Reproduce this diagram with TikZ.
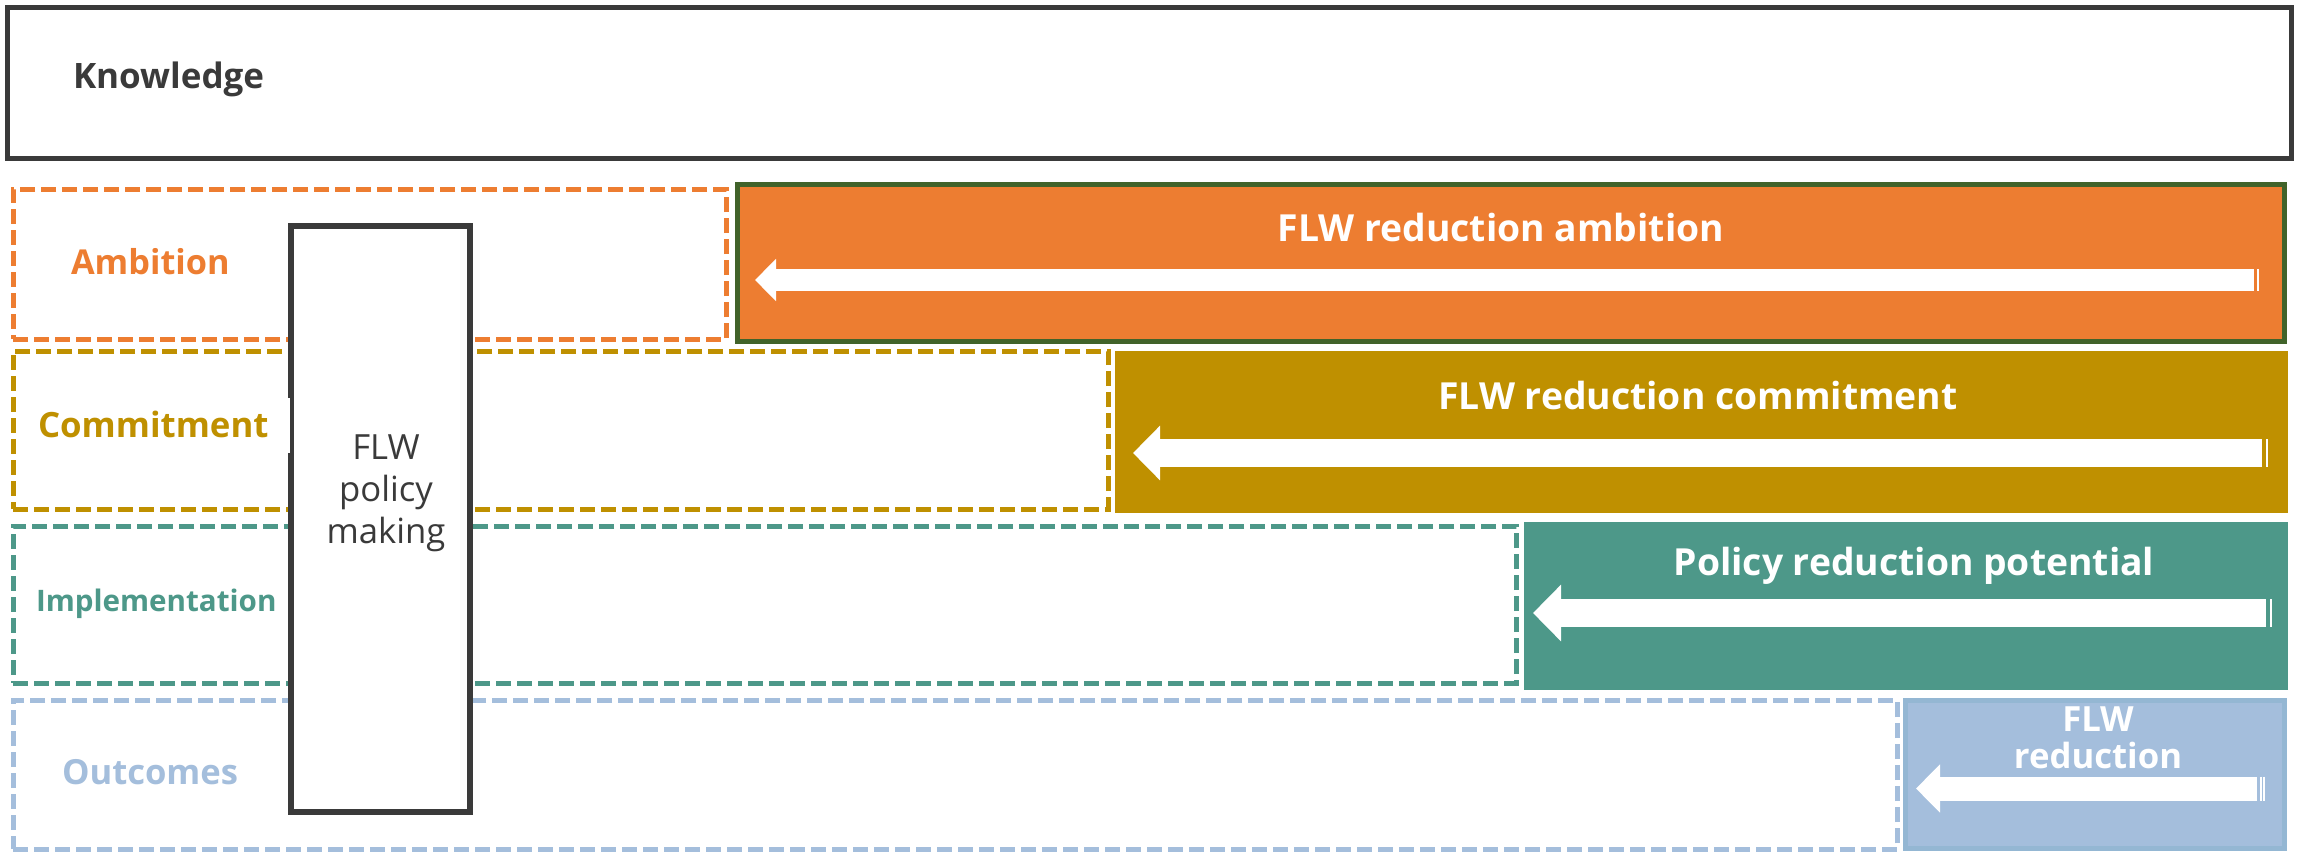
\documentclass[tikz,border=0pt]{standalone}
\usepackage{fontspec}
\setmainfont{Open Sans}
\usetikzlibrary{arrows.meta}
\definecolor{kgray}{HTML}{3A3A3A}
\definecolor{korange}{HTML}{ED7D31}
\definecolor{kgreen}{HTML}{41632A}
\definecolor{kgold}{HTML}{BF9000}
\definecolor{kteal}{HTML}{4D9889}
\definecolor{kblue}{HTML}{A4BEDC}
\definecolor{kblueb}{HTML}{94B7D3}
\begin{document}
\begin{tikzpicture}[x=1pt,y=-1pt,
  every node/.style={inner sep=0pt, outer sep=0pt},
  dashbox/.style={draw=#1, line width=5pt, dash pattern=on 15pt off 6pt, rectangle},
  fillbox/.style={fill=#1, rectangle},
  lbl/.style={font=\bfseries\fontsize{#1}{#1}\selectfont, anchor=base west},
  ttl/.style={font=\bfseries\fontsize{#1}{#1}\selectfont, text=white, anchor=base, align=center},
  blockarrow/.style n args={3}{draw=white, line width=#1, -{Triangle[length=#2, width=#3]}},
  tick/.style={draw=white, line width=1.5pt}
]
\useasboundingbox (0,0) rectangle (2305,852);
\fill[white] (0,0) rectangle (2305,852);

% Knowledge
\node[draw=kgray, line width=5pt, rectangle, minimum width=2284pt, minimum height=151pt] (know) at (1149.5,83) {};

% dashed rows
\node[dashbox=korange, minimum width=713pt, minimum height=150pt] (ambd) at (369.5,264) {};
\node[dashbox=kgold, minimum width=1095pt, minimum height=158pt] (comd) at (560.5,430) {};
\node[dashbox=kteal, minimum width=1503pt, minimum height=157pt] (impd) at (764.5,604.5) {};
\node[dashbox=kblue, minimum width=1884pt, minimum height=149pt] (outd) at (955,774.5) {};

% filled boxes
\node[fillbox=korange, draw=kgreen, line width=5pt, minimum width=1547pt, minimum height=157pt] (ambf) at (1511,263) {};
\node[fillbox=kgold, minimum width=1173pt, minimum height=162pt] (comf) at (1701.5,432) {};
\node[fillbox=kteal, minimum width=764pt, minimum height=168pt] (impf) at (1906,606) {};
\node[fillbox=kblue, draw=kblueb, line width=5pt, minimum width=379pt, minimum height=148pt] (outf) at (2095,774.5) {};

% arrows
\coordinate (a1s) at (2254,280); \coordinate (a1e) at (755,280);
\coordinate (a2s) at (2262,453); \coordinate (a2e) at (1133,453);
\coordinate (a3s) at (2266,613); \coordinate (a3e) at (1533,613);
\coordinate (a4s) at (2257,788.5); \coordinate (a4e) at (1916,788.5);
\draw[blockarrow={22pt}{21pt}{41pt}] (a1s) -- (a1e);
\draw[blockarrow={28pt}{27pt}{53pt}] (a2s) -- (a2e);
\draw[blockarrow={28pt}{28pt}{55pt}] (a3s) -- (a3e);
\draw[blockarrow={24pt}{24pt}{47pt}] (a4s) -- (a4e);
\draw[tick] (2258,269) -- (2258,291);
\draw[tick] (2267,439) -- (2267,467);
\draw[tick] (2271,599) -- (2271,627);
\draw[tick] (2261,776.5) -- (2261,800.5);
\draw[tick] (2264,776.5) -- (2264,800.5);

% titles
\node[ttl=37.3] (t1) at (1501,241) {FLW reduction ambition};
\node[ttl=37.3] (t2) at (1698,409) {FLW reduction commitment};
\node[ttl=37.3] (t3) at (1914,575) {Policy reduction potential};
\node[ttl=34.7] (t4a) at (2098,731) {FLW};
\node[ttl=34.7] (t4b) at (2098,768) {reduction};

% policy box
\node[draw=kgray, fill=white, line width=6pt, rectangle, minimum width=179pt, minimum height=586pt] (flw) at (380.5,519) {};
\node[font=\fontsize{34.7}{42}\selectfont, text=kgray, anchor=base, align=center] (flwt) at (386,543) {FLW\\policy\\making};

% row labels
\node[lbl=35, text=kgray] (lk) at (73,88) {Knowledge};
\node[lbl=34.3, text=korange] (la) at (71,274) {Ambition};
\node[lbl=34.8, text=kgold, fill=white, text height=39pt, text depth=16pt, text width=252pt, align=left] (lc) at (38,437) {Commitment};
\node[lbl=29.6, text=kteal] (li) at (36,611) {Implementation};
\node[lbl=34.6, text=kblue] (lo) at (62,784) {Outcomes};
\end{tikzpicture}
\end{document}
